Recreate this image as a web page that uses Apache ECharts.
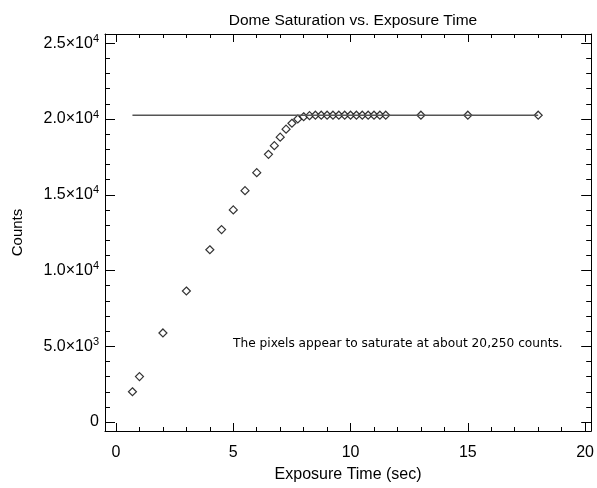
<!DOCTYPE html>
<html>
<head>
<meta charset="utf-8">
<script src="https://cdn.jsdelivr.net/npm/echarts@6/dist/echarts.min.js"></script>
<style>html,body{margin:0;padding:0;background:#fff;}#c{width:597px;height:488px;}</style>
</head>
<body>
<div id="c"></div>
<script>
// ---- data ----
var exposureTime = [0.7, 1, 2, 3, 4, 4.5, 5, 5.5, 6, 6.5, 6.75, 7, 7.25, 7.5, 7.75, 8, 8.25,
  8.5, 8.75, 9, 9.25, 9.5, 9.75, 10, 10.25, 10.5, 10.75, 11, 11.25, 11.5, 13, 15, 18];
var counts = [2000, 3000, 5880, 8650, 11370, 12700, 14000, 15270, 16460, 17670, 18240, 18800, 19330, 19720, 20000, 20150, 20220,
  20250, 20250, 20250, 20250, 20250, 20250, 20250, 20250, 20250, 20250, 20250, 20250, 20250, 20250, 20250, 20250];
var saturationLevel = 20250;
var saturationLineX = [0.7, 18];
var xTickValues = [0, 5, 10, 15, 20];
var xMinorValues = [1,2,3,4,6,7,8,9,11,12,13,14,16,17,18,19];
var yTickValues = [0, 5000, 10000, 15000, 20000, 25000];
var yTickBase = ['0', '5.0×10', '1.0×10', '1.5×10', '2.0×10', '2.5×10'];
var yTickExp = ['', '3', '4', '4', '4', '4'];
var yMinorValues = [1000,2000,3000,4000,6000,7000,8000,9000,11000,12000,13000,14000,16000,17000,18000,19000,21000,22000,23000,24000];
var titleText = 'Dome Saturation vs. Exposure Time';
var xName = 'Exposure Time (sec)';
var yName = 'Counts';
var noteText = 'The pixels appear to saturate at about 20,250 counts.';

var XMIN = -0.47, XMAX = 20.26, YMIN = -590, YMAX = 25610;
var FONT = 'Liberation Sans';

function yLabel(v) {
  var i = yTickValues.indexOf(v);
  if (i < 0) return '';
  if (!yTickExp[i]) return '{b|' + yTickBase[i] + '}';
  return '{b|' + yTickBase[i] + '}{s|' + yTickExp[i] + '}';
}

function xAx(pos, major, showLabel) {
  return {
    type: 'value', position: pos, min: XMIN, max: XMAX,
    axisLine: { show: major, onZero: false, lineStyle: { color: '#000', width: 1 } },
    axisTick: { show: true, inside: true, length: major ? 8 : 4, customValues: major ? xTickValues : xMinorValues,
      lineStyle: { color: '#000', width: 1 } },
    axisLabel: showLabel ? { show: true, customValues: xTickValues, color: '#000', fontFamily: FONT, fontSize: 16, margin: 14 } : { show: false },
    splitLine: { show: false },
    name: showLabel ? xName : '', nameLocation: 'middle', nameGap: 36,
    nameTextStyle: { color: '#000', fontFamily: FONT, fontSize: 16 }
  };
}
function yAx(pos, major, showLabel) {
  return {
    type: 'value', position: pos, min: YMIN, max: YMAX,
    axisLine: { show: major, onZero: false, lineStyle: { color: '#000', width: 1 } },
    axisTick: { show: true, inside: true, length: major ? 10 : 5, customValues: major ? yTickValues : yMinorValues,
      lineStyle: { color: '#000', width: 1 } },
    axisLabel: showLabel ? {
      show: true, customValues: yTickValues, formatter: yLabel, margin: 6,
      rich: {
        b: { color: '#000', fontFamily: FONT, fontSize: 16, lineHeight: 16 },
        s: { color: '#000', fontFamily: FONT, fontSize: 11, lineHeight: 16, padding: [0, 0, 9, 0] }
      }
    } : { show: false },
    splitLine: { show: false },
    name: showLabel ? yName : '', nameLocation: 'middle', nameGap: 80, nameRotate: 90,
    nameTextStyle: { color: '#000', fontFamily: FONT, fontSize: 15 }
  };
}

var chart = echarts.init(document.getElementById('c'), null, { renderer: 'canvas' });
chart.setOption({
  backgroundColor: '#fff',
  animation: false,
  title: { text: titleText, left: 348, top: 8, textAlign: 'center',
    textStyle: { color: '#000', fontFamily: FONT, fontSize: 15.5, fontWeight: 'normal' } },
  grid: { left: 105, right: 5, top: 34, bottom: 53, containLabel: false },
  xAxis: [xAx('bottom', true, true), xAx('bottom', false, false), xAx('top', true, false), xAx('top', false, false)],
  yAxis: [yAx('left', true, true), yAx('left', false, false), yAx('right', true, false), yAx('right', false, false)],
  graphic: [{
    type: 'text', left: 233, top: 338,
    style: { text: noteText, fill: '#000', font: '12.2px "DejaVu Sans"' }
  }],
  series: [{
    type: 'line', xAxisIndex: 0, yAxisIndex: 0,
    data: saturationLineX.map(function (x) { return [x, saturationLevel]; }),
    symbol: 'none', lineStyle: { color: '#555', width: 1.5 }, silent: true
  }, {
    type: 'scatter', xAxisIndex: 0, yAxisIndex: 0,
    data: exposureTime.map(function (x, i) { return [x, counts[i]]; }),
    symbol: 'diamond', symbolSize: 8,
    itemStyle: { color: '#fff', borderColor: '#000', borderWidth: 1.2 }
  }]
});
</script>
</body>
</html>
